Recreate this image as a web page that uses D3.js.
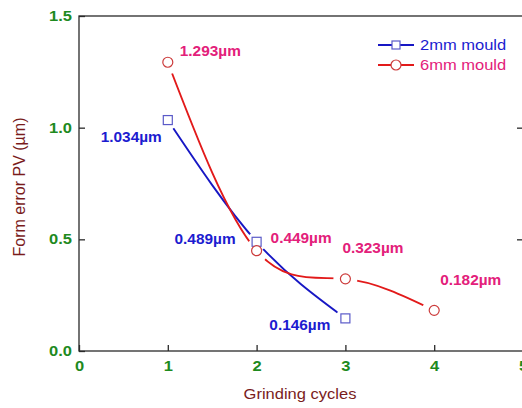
<!DOCTYPE html>
<html>
<head>
<meta charset="utf-8">
<script src="https://cdn.jsdelivr.net/npm/d3@7"></script>
<style>
  body { margin: 0; background: #fff; }
  text { font-family: "Liberation Sans", Arial, sans-serif; }
</style>
</head>
<body>
<script>
// data
var cycles2mm = [1, 2, 3];
var pv2mm = [1.034, 0.489, 0.146];
var cycles6mm = [1, 2, 3, 4];
var pv6mm = [1.293, 0.449, 0.323, 0.182];
var xTicks = [0, 1, 2, 3, 4, 5];
var yTicks = [0, 0.5, 1.0, 1.5];
var seriesNames = ["2mm mould", "6mm mould"];

// label offsets from their point (px)
var lab2mm = [[-6, 22, "end"], [-21, 2, "end"], [-15, 12, "end"]];
var lab6mm = [[12, -6, "start"], [14, -8, "start"], [-3, -26, "start"], [6, -25, "start"]];

var width = 522, height = 408;
var sx = 1.18; // the text in the picture is a bit stretched sideways
var sxLab = 1.1;

var x = d3.scaleLinear().domain([0, 5]).range([79, 523]);
var y = d3.scaleLinear().domain([0, 1.5]).range([351, 16]);

var svg = d3.select("body").append("svg")
    .attr("width", width)
    .attr("height", height);

svg.append("rect").attr("width", width).attr("height", height).attr("fill", "#fff");

function stretchText(sel) {
  sel.each(function() {
    var t = d3.select(this);
    var tx = +t.attr("x") || 0;
    t.attr("x", tx / sx).attr("transform", "scale(" + sx + ",1)");
  });
}

// frame
svg.append("rect")
    .attr("x", x(0)).attr("y", y(1.5))
    .attr("width", x(5) - x(0)).attr("height", y(0) - y(1.5))
    .attr("fill", "none").attr("stroke", "#2a2a2a").attr("stroke-width", 1.3);

var yAxis = svg.append("g")
    .attr("transform", "translate(" + x(0) + ",0)")
    .call(d3.axisLeft(y).tickValues(yTicks).tickFormat(d3.format(".1f"))
        .tickSizeInner(-6).tickSizeOuter(0).tickPadding(7));

var xAxis = svg.append("g")
    .attr("transform", "translate(0," + y(0) + ")")
    .call(d3.axisBottom(x).tickValues(xTicks).tickFormat(d3.format("d"))
        .tickSizeInner(-6).tickSizeOuter(0).tickPadding(10));

svg.append("g")
    .attr("transform", "translate(" + x(5) + ",0)")
    .call(d3.axisRight(y).tickValues([0.5, 1.0]).tickFormat("")
        .tickSizeInner(-6).tickSizeOuter(0));

svg.selectAll(".domain").remove();
svg.selectAll(".tick line").attr("stroke", "#2a2a2a").attr("stroke-width", 1.3);
svg.selectAll(".tick text")
    .attr("fill", "#1e8a1e")
    .style("font-size", "14px")
    .style("font-weight", "bold")
    .call(stretchText);

// axis titles
svg.append("text")
    .attr("x", 300 / sx).attr("y", 399)
    .attr("transform", "scale(" + sx + ",1)")
    .attr("text-anchor", "middle")
    .attr("fill", "#7a1c1c")
    .style("font-size", "14px")
    .text("Grinding cycles");

svg.append("text")
    .attr("transform", "translate(25,187) rotate(-90)")
    .attr("text-anchor", "middle")
    .attr("fill", "#7a1c1c")
    .style("font-size", "16px")
    .text("Form error PV (µm)");

var series = [
  { name: seriesNames[0], xs: cycles2mm, ys: pv2mm, line: "#1717c4", mark: "#5a5ac8", label: "#1c1cd0", labs: lab2mm, shape: "square" },
  { name: seriesNames[1], xs: cycles6mm, ys: pv6mm, line: "#e21a1a", mark: "#cc3b3b", label: "#e3207a", labs: lab6mm, shape: "circle" }
];

var defs = svg.append("defs");

series.forEach(function(s, k) {
  var pts = s.xs.map(function(d, i) { return [d, s.ys[i]]; });

  var mask = defs.append("mask").attr("id", "gap" + k)
      .attr("maskUnits", "userSpaceOnUse")
      .attr("x", 0).attr("y", 0).attr("width", width).attr("height", height);
  mask.append("rect").attr("width", width).attr("height", height).attr("fill", "#fff");
  mask.selectAll("circle").data(pts).enter().append("circle")
      .attr("cx", function(d) { return x(d[0]); })
      .attr("cy", function(d) { return y(d[1]); })
      .attr("r", k === 0 ? 10 : 12)
      .attr("fill", "#000");

  var line = d3.line()
      .x(function(d) { return x(d[0]); })
      .y(function(d) { return y(d[1]); })
      .curve(d3.curveNatural);

  svg.append("path")
      .datum(pts)
      .attr("d", line)
      .attr("fill", "none")
      .attr("stroke", s.line)
      .attr("stroke-width", 1.9)
      .attr("mask", "url(#gap" + k + ")");
});

series.forEach(function(s) {
  var pts = s.xs.map(function(d, i) { return [d, s.ys[i]]; });
  var g = svg.append("g");
  if (s.shape === "square") {
    g.selectAll("rect").data(pts).enter().append("rect")
        .attr("x", function(d) { return x(d[0]) - 4.5; })
        .attr("y", function(d) { return y(d[1]) - 4.5; })
        .attr("width", 9).attr("height", 9)
        .attr("fill", "#fff").attr("stroke", s.mark).attr("stroke-width", 1.2);
  } else {
    g.selectAll("circle").data(pts).enter().append("circle")
        .attr("cx", function(d) { return x(d[0]); })
        .attr("cy", function(d) { return y(d[1]); })
        .attr("r", 5)
        .attr("fill", "#fff").attr("stroke", s.mark).attr("stroke-width", 1.2);
  }

  g.selectAll("text").data(pts).enter().append("text")
      .attr("x", function(d, i) { return (x(d[0]) + s.labs[i][0]) / sxLab; })
      .attr("y", function(d, i) { return y(d[1]) + s.labs[i][1]; })
      .attr("transform", "scale(" + sxLab + ",1)")
      .attr("text-anchor", function(d, i) { return s.labs[i][2]; })
      .attr("fill", s.label)
      .style("font-size", "14px")
      .style("font-weight", "bold")
      .text(function(d) { return d[1].toFixed(3) + "µm"; });
});

// legend
var legend = svg.append("g");
series.forEach(function(s, i) {
  var ly = 45 + i * 20;
  legend.append("line")
      .attr("x1", 378).attr("x2", 414).attr("y1", ly).attr("y2", ly)
      .attr("stroke", s.line).attr("stroke-width", 1.9);
  if (s.shape === "square") {
    legend.append("rect")
        .attr("x", 392).attr("y", ly - 4).attr("width", 8).attr("height", 8)
        .attr("fill", "#fff").attr("stroke", s.mark).attr("stroke-width", 1.2);
  } else {
    legend.append("circle")
        .attr("cx", 396).attr("cy", ly).attr("r", 5)
        .attr("fill", "#fff").attr("stroke", s.mark).attr("stroke-width", 1.2);
  }
  legend.append("text")
      .attr("x", 420 / sx).attr("y", ly + 5)
      .attr("transform", "scale(" + sx + ",1)")
      .attr("fill", s.label)
      .style("font-size", "14px")
      .text(s.name);
});
</script>
</body>
</html>
